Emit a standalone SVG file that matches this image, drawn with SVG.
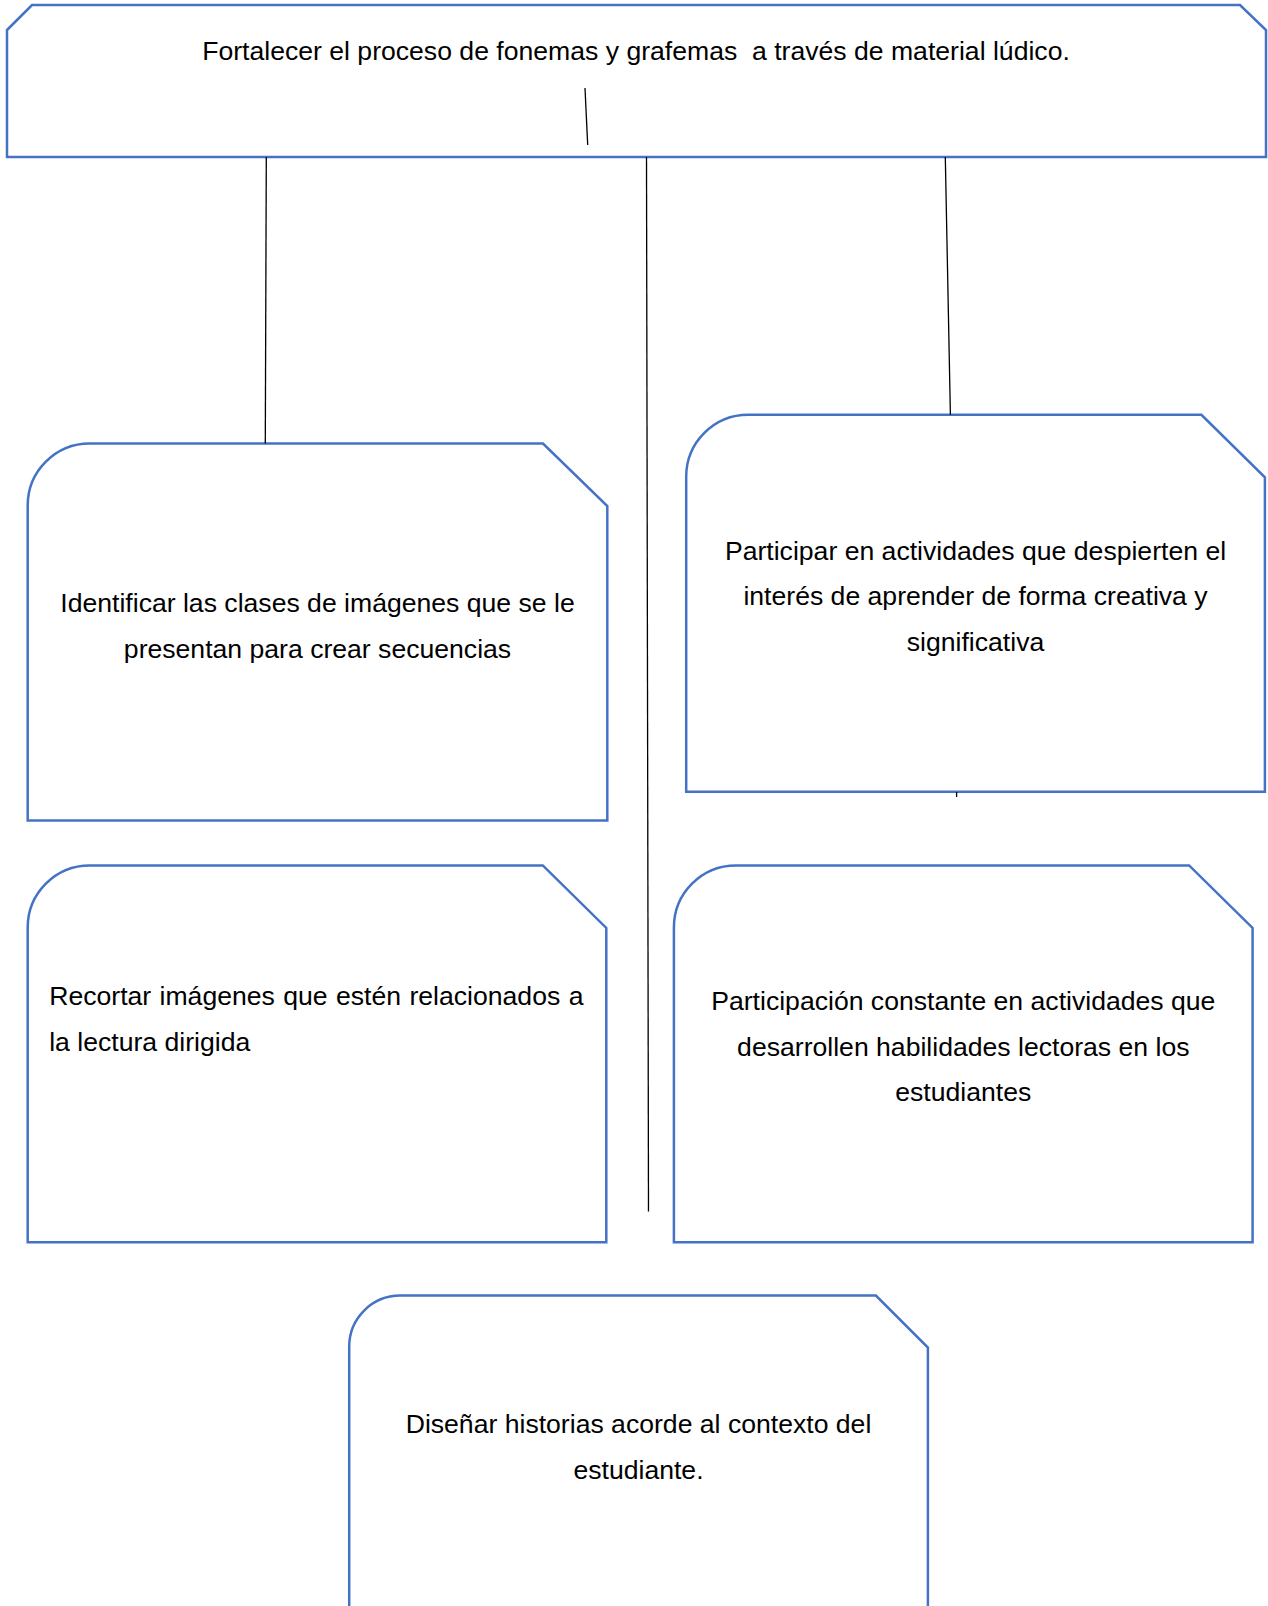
<svg xmlns="http://www.w3.org/2000/svg" width="1268" height="1606" viewBox="0 0 1268 1606">
<style>
.box{fill:#ffffff;stroke:#4472C4;stroke-width:2.5;stroke-linejoin:miter}
.t{font-family:"Liberation Sans",Arial,sans-serif;font-size:26.6px;fill:#000000}
.c{text-anchor:middle}
.ln{stroke:#000000;stroke-width:1.3;fill:none}
</style>
<rect width="1268" height="1606" fill="#ffffff"/>
<g id="node-top">
<path class="box" d="M7,30 L32,5 H1240 L1266,30 V157 H7 Z"/>
<text class="t c" x="636" y="60" xml:space="preserve">Fortalecer el proceso de fonemas y grafemas  a través de material lúdico.</text>
</g>
<g id="node-identificar">
<path class="box" d="M27.7,505.5 A62,62 0 0 1 89.7,443.5 H543 L607.3,506 V820.4 H27.7 Z"/>
<text class="t c" x="317.5" y="611.5">Identificar las clases de imágenes que se le</text>
<text class="t c" x="317.5" y="657.5">presentan para crear secuencias</text>
</g>
<g id="node-participar">
<path class="box" d="M686.2,476.8 A62,62 0 0 1 748.2,414.8 H1201.4 L1264.9,477.3 V791.7 H686.2 Z"/>
<text class="t c" x="975.5" y="559.5">Participar en actividades que despierten el</text>
<text class="t c" x="975.5" y="605">interés de aprender de forma creativa y</text>
<text class="t c" x="975.5" y="650.5">significativa</text>
</g>
<g id="node-recortar">
<path class="box" d="M27.7,927.4 A62,62 0 0 1 89.7,865.4 H542.8 L606.3,927.9 V1242.3 H27.7 Z"/>
<text class="t" x="49.2" y="1005" word-spacing="1">Recortar imágenes que estén relacionados a</text>
<text class="t" x="49.2" y="1050.7">la lectura dirigida</text>
</g>
<g id="node-participacion">
<path class="box" d="M673.9,927.4 A62,62 0 0 1 735.9,865.4 H1189.1 L1252.6,927.9 V1242.3 H673.9 Z"/>
<text class="t c" x="963.3" y="1010">Participación constante en actividades que</text>
<text class="t c" x="963.3" y="1055.5">desarrollen habilidades lectoras en los</text>
<text class="t c" x="963.3" y="1100.7">estudiantes</text>
</g>
<g id="node-disenar">
<path class="box" d="M349.2,1346.6 A51,51 0 0 1 400.2,1295.6 H875.9 L927.9,1347.6 V1620 H349.2 Z"/>
<text class="t c" x="638.5" y="1433.3">Diseñar historias acorde al contexto del</text>
<text class="t c" x="638.5" y="1479">estudiante.</text>
</g>
<g id="connectors">
<line class="ln" x1="585" y1="88" x2="587.7" y2="145"/>
<line class="ln" x1="266.3" y1="157" x2="265.3" y2="443.5"/>
<line class="ln" x1="646.5" y1="157" x2="648.5" y2="1211.6"/>
<line class="ln" x1="945.3" y1="157" x2="950.4" y2="414.8"/>
<line class="ln" x1="956.6" y1="792" x2="956.6" y2="797"/>
</g>
</svg>
